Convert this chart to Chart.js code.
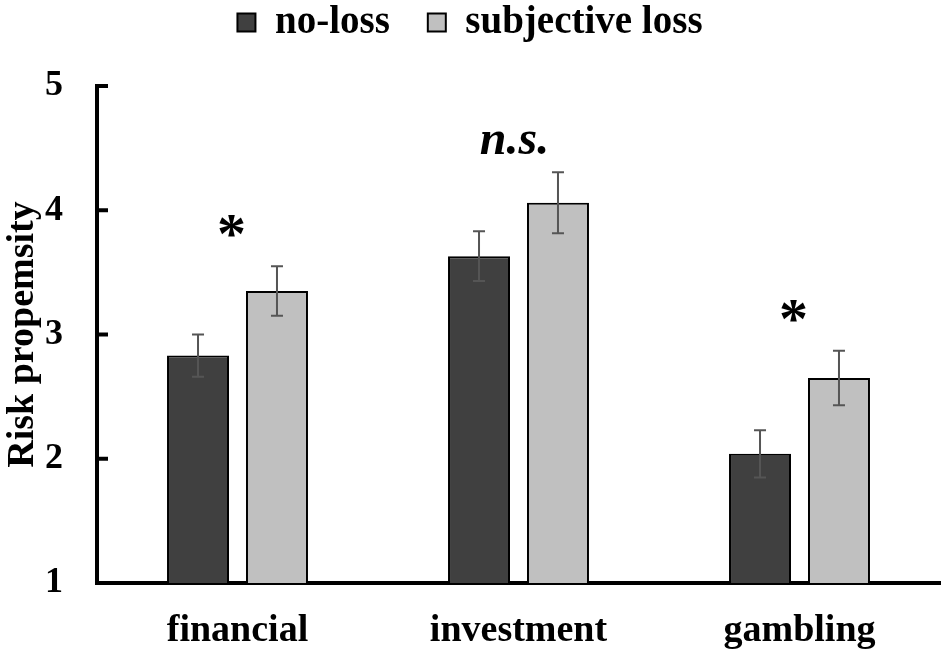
<!DOCTYPE html>
<html>
<head>
<meta charset="utf-8">
<script src="https://cdn.jsdelivr.net/npm/chart.js@4"></script>
<style>
  html, body { margin: 0; padding: 0; background: #fff; }
  #wrap { width: 950px; height: 654px; }
</style>
</head>
<body>
<div id="wrap"><canvas id="myChart"></canvas></div>
<script>
let categories = ['financial', 'investment', 'gambling'];
let noLoss = [2.83, 3.63, 2.04];
let noLossErr = [0.17, 0.20, 0.19];
let subjLoss = [3.35, 4.06, 2.65];
let subjLossErr = [0.20, 0.245, 0.22];
let marks = ['*', 'n.s.', '*'];
let yTicks = [1, 2, 3, 4, 5];

let serif = '"Liberation Serif", "Times New Roman", serif';

// legend box gets a fixed height so the plot starts lower
let legendSpace = {
  id: 'legendSpace',
  afterInit(chart) {
    let l = chart.legend;
    let fit = l.fit.bind(l);
    l.fit = () => { fit(); l.height = 121; };
  }
};

// error bars, inner y ticks and significance marks
let extras = {
  id: 'extras',
  afterDatasetsDraw(chart) {
    let ctx = chart.ctx;
    let y = chart.scales.y;
    let errs = [noLossErr, subjLossErr];
    ctx.save();
    ctx.strokeStyle = '#555';
    ctx.lineWidth = 2;
    chart.data.datasets.forEach((ds, di) => {
      chart.getDatasetMeta(di).data.forEach((bar, i) => {
        let top = y.getPixelForValue(ds.data[i] + errs[di][i]);
        let bot = y.getPixelForValue(ds.data[i] - errs[di][i]);
        ctx.beginPath();
        ctx.moveTo(bar.x, top); ctx.lineTo(bar.x, bot);
        ctx.moveTo(bar.x - 6, top); ctx.lineTo(bar.x + 6, top);
        ctx.moveTo(bar.x - 6, bot); ctx.lineTo(bar.x + 6, bot);
        ctx.stroke();
      });
    });

    ctx.strokeStyle = '#000';
    ctx.lineWidth = 4;
    yTicks.slice(1).forEach(v => {
      let py = y.getPixelForValue(v);
      ctx.beginPath();
      ctx.moveTo(chart.chartArea.left, py);
      ctx.lineTo(chart.chartArea.left + 11, py);
      ctx.stroke();
    });

    ctx.fillStyle = '#000';
    ctx.textAlign = 'center';
    ctx.textBaseline = 'alphabetic';
    let x = chart.scales.x;
    marks.forEach((m, i) => {
      let hi = Math.max(noLoss[i] + noLossErr[i], subjLoss[i] + subjLossErr[i]);
      let py = y.getPixelForValue(hi);
      let px = x.getPixelForValue(i) - 6;
      if (m === '*') {
        ctx.font = 'bold 58px ' + serif;
        ctx.fillText(m, px, py - 13);
      } else {
        ctx.font = 'italic bold 48px ' + serif;
        ctx.fillText(m, px + 2, py - 18);
      }
    });
    ctx.restore();
  }
};

let ctx = document.getElementById('myChart').getContext('2d');
let myChart = new Chart(ctx, {
  type: 'bar',
  data: {
    labels: categories,
    datasets: [{
      label: 'no-loss',
      data: noLoss,
      backgroundColor: '#404040',
      borderColor: '#000',
      borderWidth: 2
    }, {
      label: 'subjective loss',
      data: subjLoss,
      backgroundColor: '#c0c0c0',
      borderColor: '#000',
      borderWidth: 2
    }]
  },
  options: {
    responsive: true,
    maintainAspectRatio: false,
    animation: false,
    layout: { padding: { left: 0, right: 10, top: -35, bottom: 0 } },
    datasets: {
      bar: { categoryPercentage: 0.562, barPercentage: 0.785 }
    },
    plugins: {
      tooltip: { enabled: false },
      legend: {
        position: 'top',
        labels: {
          color: '#000',
          boxWidth: 18,
          boxHeight: 18,
          padding: 38,
          font: { family: serif, size: 39, weight: 'bold' }
        }
      }
    },
    scales: {
      x: {
        afterFit: (scale) => { scale.height = 71; },
        grid: { display: false, drawTicks: false },
        border: { color: '#000', width: 4 },
        ticks: {
          color: '#000',
          padding: 25,
          font: { family: serif, size: 38, weight: 'bold' }
        }
      },
      y: {
        min: 1,
        max: 5,
        afterBuildTicks: (scale) => {
          scale.ticks = yTicks.map(v => ({ value: v }));
        },
        afterFit: (scale) => { scale.width = 97; },
        grid: { display: false, drawTicks: false },
        border: { color: '#000', width: 4 },
        ticks: {
          color: '#000',
          padding: 34,
          font: { family: serif, size: 36, weight: 'bold' }
        },
        title: {
          display: true,
          text: 'Risk propemsity',
          color: '#000',
          padding: 0,
          font: { family: serif, size: 38, weight: 'bold' }
        }
      }
    }
  },
  plugins: [legendSpace, extras]
});
</script>
</body>
</html>
